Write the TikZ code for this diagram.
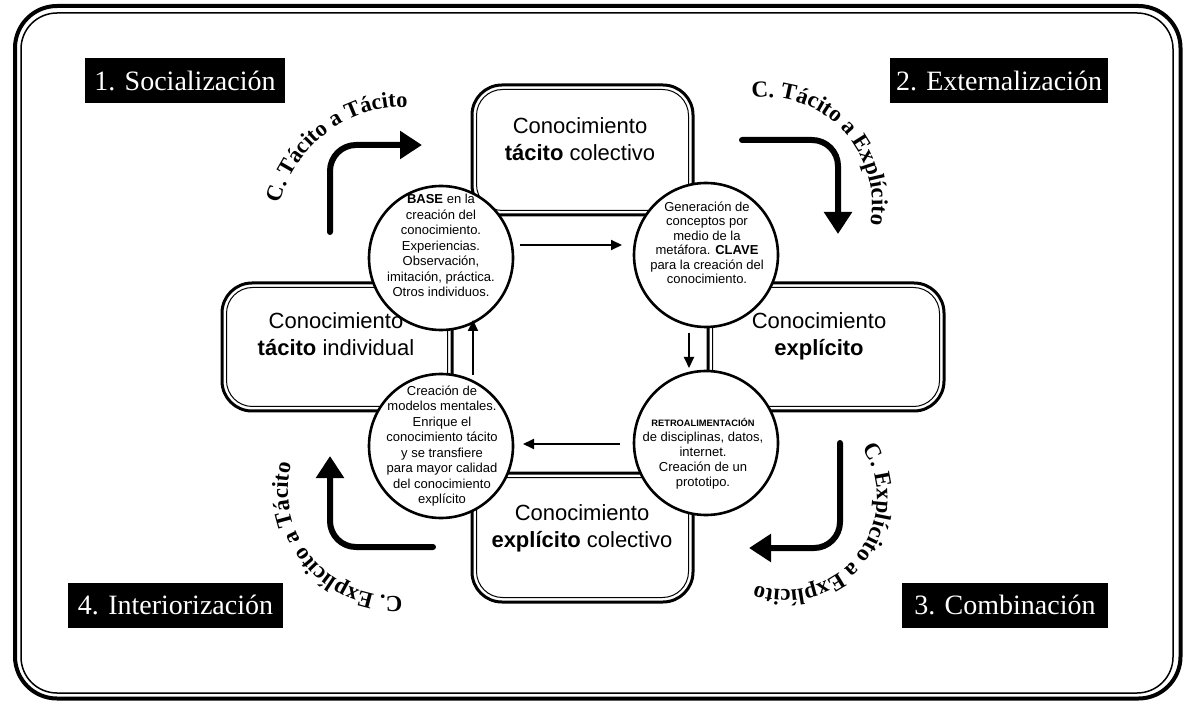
\documentclass[tikz,border=0pt]{standalone}
\usepackage{fontspec}
\setmainfont{Liberation Serif}
\newfontfamily\arialf{Liberation Sans}
\usetikzlibrary{arrows.meta,decorations.text}
\begin{document}
\begin{tikzpicture}[x=1pt,y=1pt,
  kbox/.style={draw, line width=3pt, rounded corners=30pt, fill=white, outer sep=0pt, inner sep=0pt},
  kin/.style={line width=1pt, rounded corners=26pt},
  kcirc/.style={circle, draw, line width=2.6pt, fill=white, minimum size=144pt, inner sep=0pt, outer sep=0pt},
  ktext/.style={font=\arialf\fontsize{22}{27}\selectfont, align=center, inner sep=0pt},
  ctext/.style={font=\arialf\fontsize{13}{15.5}\selectfont, align=center, inner sep=0pt},
  lab/.style={fill=black, text=white, font=\fontsize{28}{28}\selectfont, minimum height=45pt, inner sep=0pt},
  flow/.style={line width=2pt, -{Triangle[width=10pt,length=11pt]}},
  fat/.style={line width=6pt, rounded corners=26pt, line cap=round, -{Triangle[width=27pt,length=22pt]}},
  curv/.style={decorate, decoration={text along path, text align=center}},
]
\useasboundingbox (0,0) rectangle (1185,702);
% frame
\draw[line width=4pt, rounded corners=42pt] (15,3.5) rectangle (1180.5,696);
\draw[line width=1.5pt, rounded corners=36pt] (21,9) rectangle (1173,689);

% phase labels
\node[lab, minimum width=200pt] (l1) at (185,621.5) {1. Socialización};
\node[lab, minimum width=218pt] (l2) at (999,621.5) {2. Externalización};
\node[lab, minimum width=206pt] (l3) at (1005,97) {3. Combinación};
\node[lab, minimum width=215pt] (l4) at (175.5,97) {4. Interiorización};

% knowledge boxes
\node[kbox, minimum width=221pt, minimum height=130pt] (tc) at (582.5,552) {};
\draw[kin] ([shift={(4.5pt,4.5pt)}]tc.south west) rectangle ([shift={(-4.5pt,-4.5pt)}]tc.north east);
\node[kbox, minimum width=230pt, minimum height=128pt] (ti) at (337,355) {};
\draw[kin] ([shift={(4.5pt,4.5pt)}]ti.south west) rectangle ([shift={(-4.5pt,-4.5pt)}]ti.north east);
\node[kbox, minimum width=236pt, minimum height=128pt] (ex) at (826,355) {};
\draw[kin] ([shift={(4.5pt,4.5pt)}]ex.south west) rectangle ([shift={(-4.5pt,-4.5pt)}]ex.north east);
\node[kbox, minimum width=221pt, minimum height=129pt] (ec) at (582.5,164.5) {};
\draw[kin] ([shift={(4.5pt,4.5pt)}]ec.south west) rectangle ([shift={(-4.5pt,-4.5pt)}]ec.north east);

\node[ktext] (tct) at (580,559.9) {\strut Conocimiento\\\strut\textbf{tácito} colectivo};
\node[ktext] (tit) at (336,364.9) {\strut Conocimiento\\\strut\textbf{tácito} individual};
\node[ktext] (ext) at (819,364.9) {\strut Conocimiento\\\strut\textbf{explícito}};
\node[ktext] (ect) at (582,173.9) {\strut Conocimiento\\\strut\textbf{explícito} colectivo};

% circles
\node[kcirc] (ctl) at (441,444) {};
\node[kcirc] (ctr) at (706,447) {};
\node[kcirc] (cbl) at (441,256) {};
\node[kcirc] (cbr) at (706,259) {};

\node[ctext] (ttl) at (441,455) {\strut\textbf{BASE} en la\\\strut creación del\\\strut conocimiento.\\\strut Experiencias.\\\strut Observación,\\\strut imitación, práctica.\\\strut Otros individuos.};
\node[ctext, font=\arialf\fontsize{13}{14.5}\selectfont] (ttr) at (707,457.25) {\strut Generación de\\\strut conceptos por\\\strut medio de la\\\strut metáfora. \textbf{CLAVE}\\\strut para la creación del\\\strut conocimiento.};
\node[ctext] (tbl) at (442,255.75) {\strut Creación de\\\strut modelos mentales.\\\strut Enrique el\\\strut conocimiento tácito\\\strut y se transfiere\\\strut para mayor calidad\\\strut del conocimiento\\\strut explícito};
\node[ctext, font=\arialf\fontsize{13}{15}\selectfont] (tbr) at (703,249) {\strut{\bfseries\fontsize{9.3}{15}\selectfont RETROALIMENTACIÓN}\\\strut de disciplinas, datos,\\\strut internet.\\\strut Creación de un\\\strut prototipo.};

% inner flow arrows
\coordinate (a1s) at (520,457); \coordinate (a1e) at (622,457);
\coordinate (a2s) at (689,369); \coordinate (a2e) at (689,334);
\coordinate (a3s) at (620,258); \coordinate (a3e) at (523,258);
\coordinate (a4s) at (473,327); \coordinate (a4e) at (473,382);
\draw[flow] (a1s) -- (a1e);
\draw[flow] (a2s) -- (a2e);
\draw[flow] (a3s) -- (a3e);
\draw[flow] (a4s) -- (a4e);

% big bent arrows
\coordinate (f1s) at (330,470); \coordinate (f1c) at (330,557); \coordinate (f1e) at (422,557);
\coordinate (f2s) at (742,562); \coordinate (f2c) at (838,562); \coordinate (f2e) at (838,468);
\coordinate (f3s) at (840,259); \coordinate (f3c) at (840,154); \coordinate (f3e) at (749,154);
\coordinate (f4s) at (433,155); \coordinate (f4c) at (330,155); \coordinate (f4e) at (330,246);
\draw[fat] (f1s) -- (f1c) -- (f1e);
\draw[fat] (f2s) -- (f2c) -- (f2e);
\draw[fat] (f3s) -- (f3c) -- (f3e);
\draw[fat] (f4s) -- (f4c) -- (f4e);

% curved labels
\path[curv, decoration={text={|\bfseries\fontsize{22.5}{22.5}\selectfont|C. Tácito a Tácito}}] (404,467) ++(212:128) arc[start angle=212, end angle=42, radius=128];
\path[curv, decoration={text={|\bfseries\fontsize{23}{23}\selectfont|C. Tácito a Explícito}}] (765,498) ++(128:107) arc[start angle=128, end angle=-42, radius=107];
\path[curv, decoration={text={|\bfseries\fontsize{23}{23}\selectfont|C. Explícito a Explícito}}] (785,204) ++(47:92) arc[start angle=47, end angle=-123, radius=92];
\path[curv, decoration={text={|\bfseries\fontsize{23}{23}\selectfont|C. Explícito a Tácito}}] (394,212) ++(-55:106) arc[start angle=-55, end angle=-225, radius=106];
\end{tikzpicture}
\end{document}
